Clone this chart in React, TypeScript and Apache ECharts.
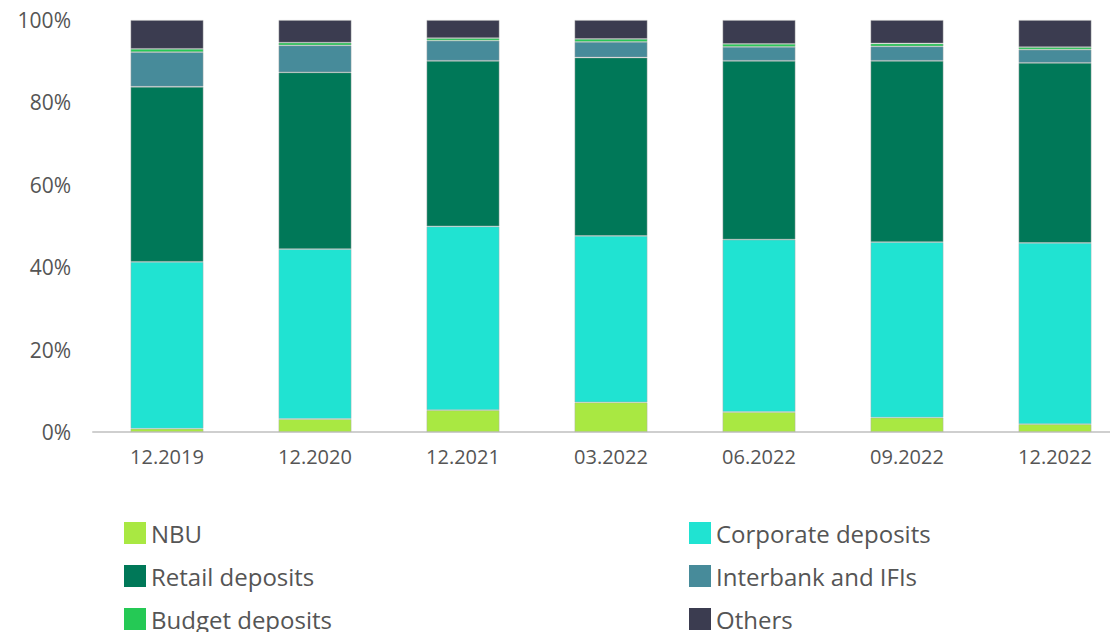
import React, { useEffect, useRef } from "react";
import * as echarts from "echarts";

const categories = ["12.2019", "12.2020", "12.2021", "03.2022", "06.2022", "09.2022", "12.2022"];
const nbu = [0.8, 3.15, 5.3, 7.2, 4.85, 3.5, 1.9];
const corporate = [40.5, 41.25, 44.6, 40.4, 41.85, 42.6, 44.0];
const retail = [42.5, 42.9, 40.2, 43.3, 43.4, 44.0, 43.7];
const interbank = [8.4, 6.55, 4.9, 3.8, 3.4, 3.5, 3.2];
const budget = [0.8, 0.65, 0.6, 0.7, 0.7, 0.7, 0.6];
const others = [7.0, 5.5, 4.4, 4.6, 5.8, 5.7, 6.6];
const yTicks = [0, 20, 40, 60, 80, 100];

const FONT = "'Open Sans', sans-serif";
const TEXT = "#555555";

export default function App() {
  const ref = useRef<HTMLDivElement>(null);
  useEffect(() => {
    if (!ref.current) return;
    const chart = echarts.init(ref.current, null, { renderer: "svg" });
    const mk = (name: string, data: number[], color: string) => ({
      name,
      type: "bar",
      stack: "total",
      data,
      barWidth: 73,
      itemStyle: { color, borderColor: "rgba(170,170,170,0.55)", borderWidth: 0.8 },
      emphasis: { disabled: true },
    });
    const legendBase = {
      orient: "vertical",
      itemWidth: 22,
      itemHeight: 22,
      itemGap: 19,
      icon: "rect",
      padding: 0,
      height: 140,
      itemStyle: { borderWidth: 0 },
      textStyle: { fontFamily: FONT, fontSize: 24, lineHeight: 22, color: TEXT },
      selectedMode: false,
    };
    chart.setOption({
      animation: false,
      textStyle: { fontFamily: FONT },
      grid: { left: 93, right: 1, top: 20, bottom: 200, containLabel: false },
      legend: [
        { ...legendBase, left: 124, top: 521, data: ["NBU", "Retail deposits", "Budget deposits"] },
        { ...legendBase, left: 689, top: 521, data: ["Corporate deposits", "Interbank and IFIs", "Others"] },
      ],
      xAxis: {
        type: "category",
        data: categories,
        axisTick: { show: false },
        axisLine: { lineStyle: { color: "#cfcfcf", width: 2 } },
        axisLabel: { fontFamily: FONT, fontSize: 20, color: TEXT, margin: 14 },
      },
      yAxis: {
        type: "value",
        min: yTicks[0],
        max: yTicks[yTicks.length - 1],
        interval: 20,
        splitLine: { show: false },
        axisLine: { show: false },
        axisTick: { show: false },
        axisLabel: { fontFamily: FONT, fontSize: 21, color: TEXT, margin: 22, formatter: "{value}%" },
      },
      series: [
        mk("NBU", nbu, "#a9e842"),
        mk("Corporate deposits", corporate, "#20e3d2"),
        mk("Retail deposits", retail, "#007858"),
        mk("Interbank and IFIs", interbank, "#478b9a"),
        mk("Budget deposits", budget, "#25c955"),
        mk("Others", others, "#3b3c50"),
      ],
    });
    return () => chart.dispose();
  }, []);
  return (
    <div style={{ position: "fixed", left: 0, top: 0, width: 1110, height: 632, overflow: "hidden", background: "#fff" }}>
      <div ref={ref} style={{ width: 1130, height: 632 }} />
    </div>
  );
}
